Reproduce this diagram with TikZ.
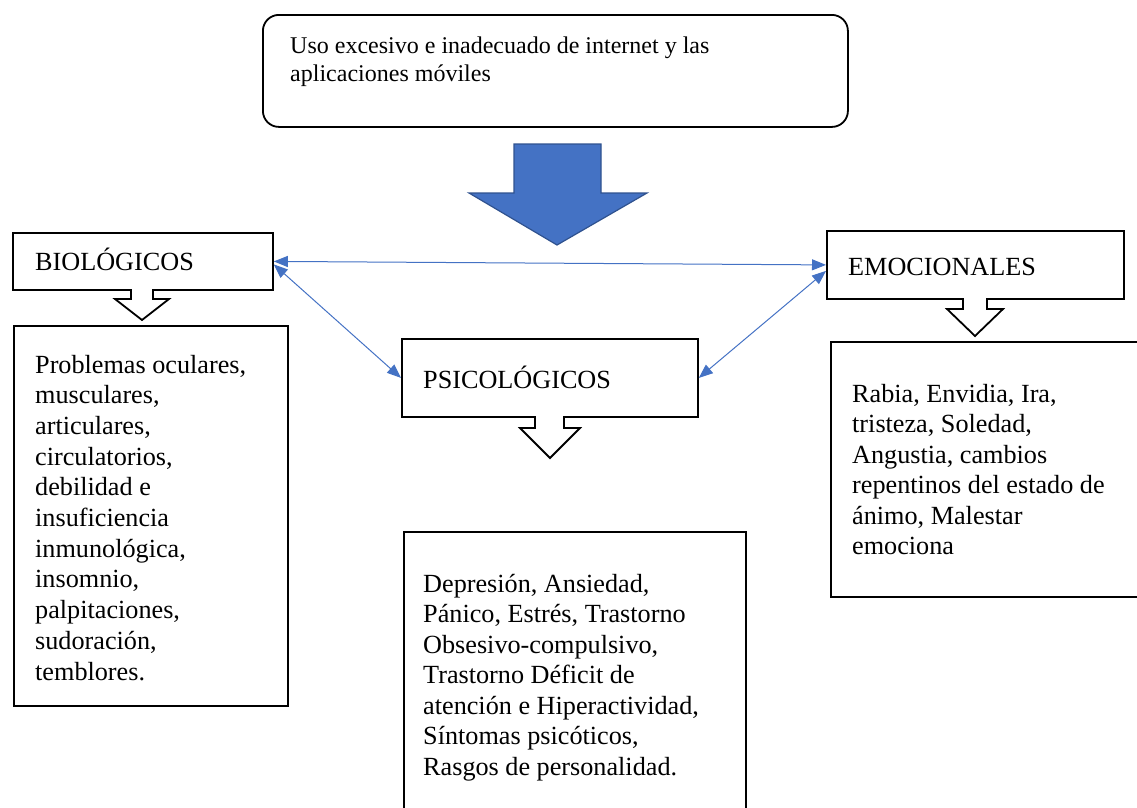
\documentclass[tikz,border=0pt]{standalone}
\usepackage{fontspec}
\setmainfont{Liberation Serif}
\usetikzlibrary{arrows.meta}

\definecolor{accent}{HTML}{4472C4}
\definecolor{accentdark}{HTML}{2F528F}

\tikzset{
  box/.style={draw=black, line width=1.8pt, fill=white, rectangle, inner sep=0pt, anchor=north west},
  label/.style={inner sep=0pt, anchor=base west, font=\fontsize{26.2}{30.7}\selectfont},
  body/.style={inner sep=0pt, anchor=base west},
  hollow/.style={draw=black, line width=1.8pt, fill=white, line join=miter},
  link/.style={draw=accent, line width=1pt, {Triangle[length=14pt,width=11pt]}-{Triangle[length=14pt,width=11pt]}, accent},
}

\begin{document}
\begin{tikzpicture}[x=1pt, y=-1pt]
  \useasboundingbox (0,0) rectangle (1137,807);
  \clip (0,0) rectangle (1137,807);

  % header box
  \node[box, rounded corners=16pt, minimum width=585pt, minimum height=112pt] (top) at (262,14) {};
  \node[body, font=\fontsize{24}{28.5}\selectfont] (toptxt) at (290,53)
    {\parbox[t]{540pt}{\raggedright Uso excesivo e inadecuado de internet y las\\aplicaciones móviles}};

  % large down arrow
  \path[fill=accent, draw=accentdark, line width=1.2pt, line join=miter]
    (514,144) -- (601,144) -- (601,193) -- (647,193) -- (557,245) -- (469,193) -- (514,193) -- cycle;

  % category boxes
  \node[box, minimum width=260pt, minimum height=57pt] (bio) at (12,232) {};
  \node[box, minimum width=296pt, minimum height=78pt] (psic) at (401,338) {};
  \node[box, minimum width=297pt, minimum height=68pt] (emo) at (826,230) {};

  \node[label] (biolab) at (35,270) {BIOLÓGICOS};
  \node[label] (psiclab) at (423,388) {PSICOLÓGICOS};
  \node[label] (emolab) at (848,275) {EMOCIONALES};

  % hollow arrows below each category
  \path[hollow] (131,289) -- (131,299) -- (115,299) -- (142,320) -- (169,299) -- (153,299) -- (153,289);
  \path[hollow] (535,416) -- (535,428) -- (520,428) -- (550,458) -- (580,428) -- (564,428) -- (564,416);
  \path[hollow] (963,298) -- (963,309) -- (947,309) -- (975,336) -- (1003,309) -- (987,309) -- (987,298);

  % detail boxes
  \node[box, minimum width=274pt, minimum height=380pt] (biobox) at (13,325) {};
  \node[box, minimum width=342pt, minimum height=300pt] (psicbox) at (403,531) {};
  \node[box, minimum width=320pt, minimum height=255pt] (emobox) at (830,341) {};

  \node[body, font=\fontsize{26.2}{30.7}\selectfont] (biotxt) at (35,373)
    {\parbox[t]{250pt}{\raggedright Problemas oculares,\\musculares,\\articulares,\\circulatorios,\\debilidad e\\insuficiencia\\inmunológica,\\insomnio,\\palpitaciones,\\sudoración,\\temblores.}};
  \node[body, font=\fontsize{26.2}{30.5}\selectfont] (psictxt) at (423,592)
    {\parbox[t]{330pt}{\raggedright Depresión, Ansiedad,\\Pánico, Estrés, Trastorno\\Obsesivo-compulsivo,\\Trastorno Déficit de\\atención e Hiperactividad,\\Síntomas psicóticos,\\Rasgos de personalidad.}};
  \node[body, font=\fontsize{26.2}{30.5}\selectfont] (emotxt) at (852,402)
    {\parbox[t]{290pt}{\raggedright Rabia, Envidia, Ira,\\tristeza, Soledad,\\Angustia, cambios\\repentinos del estado de\\ánimo, Malestar\\emociona}};

  % relations between categories
  \draw[link] (bio.east) -- (emo.west);
  \draw[link] ([yshift=-3pt]bio.east) -- (psic.west);
  \draw[link] ([yshift=-6pt]emo.west) -- (psic.east);
\end{tikzpicture}
\end{document}
